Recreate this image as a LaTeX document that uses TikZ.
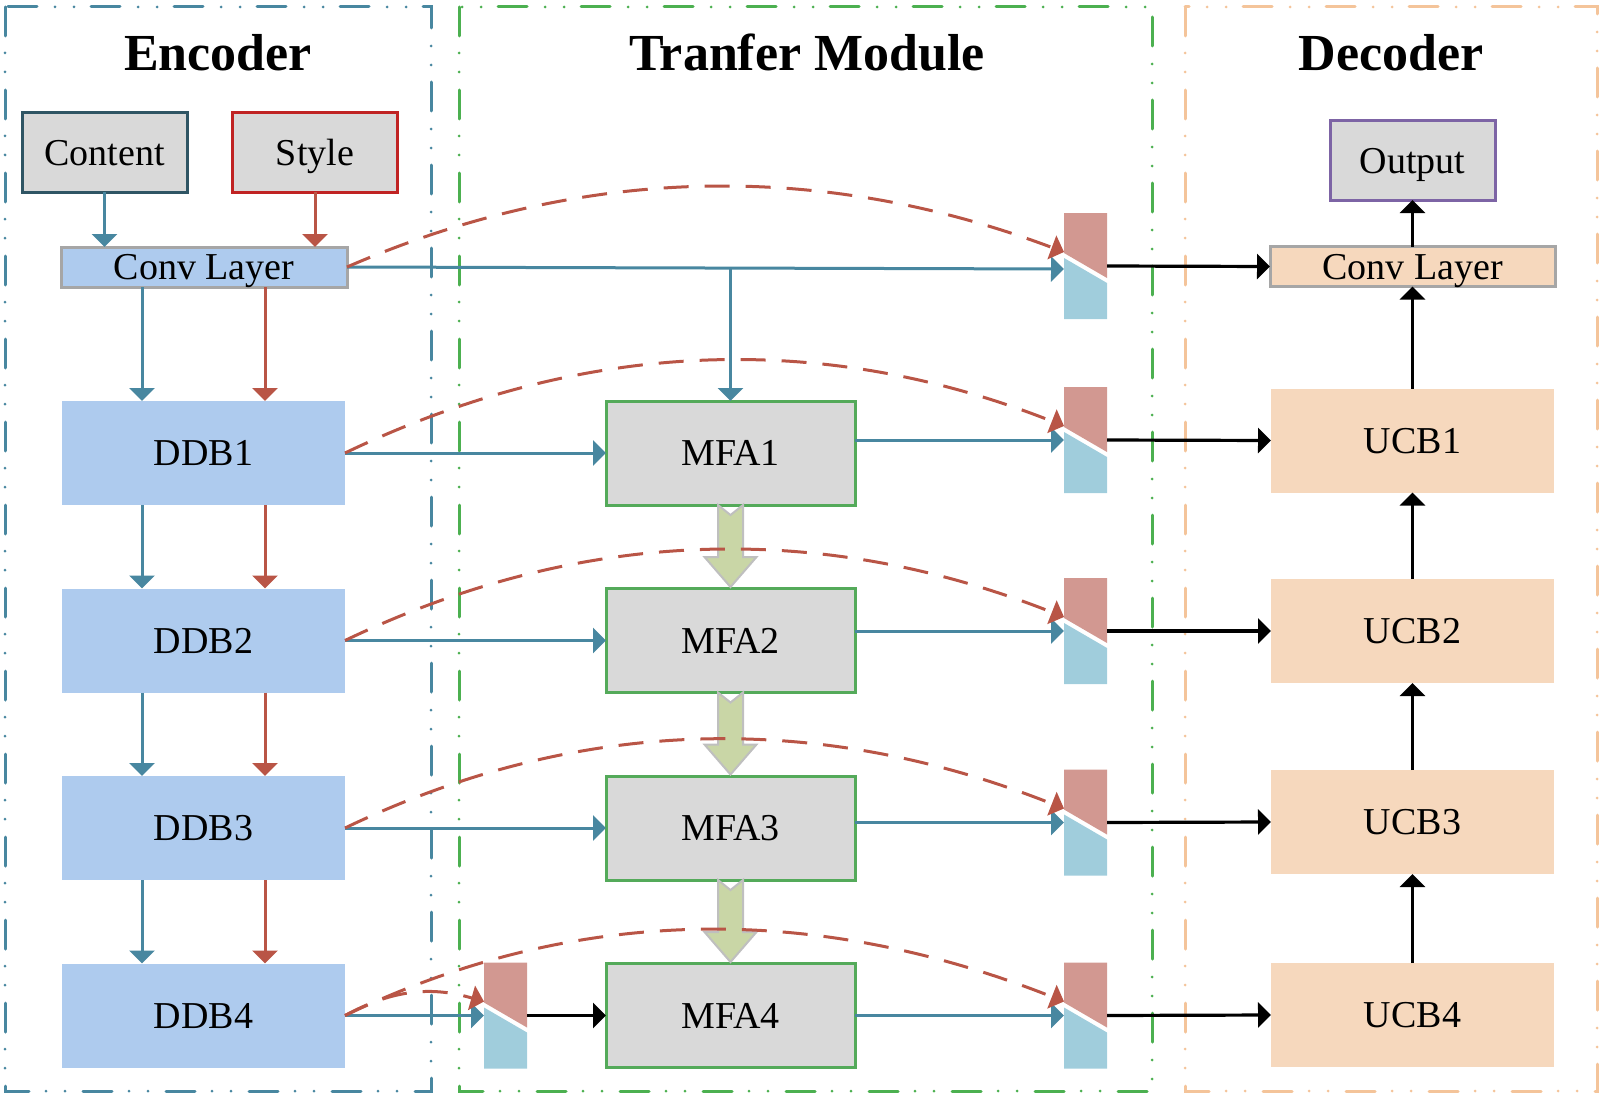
\documentclass[tikz,border=0pt]{standalone}
\usepackage{fontspec}
\setmainfont{Liberation Serif}
\usetikzlibrary{arrows.meta, calc}

\definecolor{encblue}{RGB}{72,135,160}
\definecolor{encred}{RGB}{185,85,70}
\definecolor{contc}{RGB}{47,85,100}
\definecolor{stylc}{RGB}{192,35,35}
\definecolor{grayfill}{RGB}{217,217,217}
\definecolor{ddbfill}{RGB}{174,203,238}
\definecolor{convgray}{RGB}{166,166,166}
\definecolor{mfagreen}{RGB}{84,170,90}
\definecolor{catred}{RGB}{210,152,145}
\definecolor{catblue}{RGB}{160,205,220}
\definecolor{ucbfill}{RGB}{246,216,189}
\definecolor{outc}{RGB}{125,100,165}
\definecolor{trgreen}{RGB}{76,176,80}
\definecolor{decpeach}{RGB}{244,196,154}
\definecolor{flowfill}{RGB}{201,214,166}
\definecolor{flowdraw}{RGB}{191,191,191}

\begin{document}
\begin{tikzpicture}[x=0.5pt, y=-0.5pt,
    box/.style={rectangle, inner sep=0pt, outer sep=0pt, text height=12.5pt, text depth=0pt,
        font=\fontsize{19}{22}\selectfont},
    ddbbox/.style={box, fill=ddbfill, minimum width=141.5pt, minimum height=52pt},
    mfabox/.style={box, fill=grayfill, draw=mfagreen, line width=1.5pt, minimum width=124.5pt, minimum height=52pt},
    ucbbox/.style={box, fill=ucbfill, minimum width=141.5pt, minimum height=52pt},
    inbox/.style={box, fill=grayfill, line width=1.5pt, minimum width=82.5pt, minimum height=39.5pt},
    convbox/.style={box, draw=convgray, line width=1.5pt, minimum height=20pt, text height=12.5pt,
        font=\fontsize{19}{21}\selectfont},
    catbox/.style={rectangle, inner sep=0pt, outer sep=0pt, minimum width=21.5pt, minimum height=53pt},
    title/.style={font=\bfseries\fontsize{26}{30}\selectfont},
    frame/.style={line width=1.5pt, line cap=round,
        dash pattern=on 14.5pt off 8.5pt on 0pt off 9.5pt on 0pt off 9pt},
    tip/.style={-{Triangle[length=6.5pt,width=12.5pt]}},
    bluearr/.style={tip, draw=encblue, line width=1.5pt},
    redarr/.style={tip, draw=encred, line width=1.5pt},
    blackarr/.style={tip, draw=black, line width=1.6pt},
    redcurve/.style={redarr, dash pattern=on 12.5pt off 8pt},
    flowarr/.style={fill=flowfill, draw=flowdraw, line width=1pt, line join=miter}
]
    \useasboundingbox (0,0) rectangle (1606,1102);

    % 虚线框
    \draw[frame, encblue] (5,7) rectangle (431,1091);
    \draw[frame, trgreen] (459,7) rectangle (1152,1091);
    \draw[frame, decpeach] (1185,7) rectangle (1597,1091);

    % 标题
    \node[title] (tenc) at (218,53) {Encoder};
    \node[title] (ttra) at (807,53) {Tranfer Module};
    \node[title] (tdec) at (1391,53) {Decoder};

    % 编码器
    \node[inbox, draw=contc] (cont) at (104.5,152.5) {Content};
    \node[inbox, draw=stylc] (sty) at (315,152.5) {Style};
    \node[convbox, fill=ddbfill, minimum width=143pt] (convenc) at (204,267) {Conv Layer};
    \foreach \i/\y in {1/453, 2/640.5, 3/828, 4/1015.5} {
        \node[ddbbox] (ddb\i) at (203.5,\y) {DDB\i};
        \node[mfabox] (mfa\i) at (730.5,\y) {MFA\i};
    }

    % 解码器
    \foreach \i/\y in {1/440.5, 2/631, 3/822, 4/1015}
        \node[ucbbox] (ucb\i) at (1412.5,\y) {UCB\i};
    \node[convbox, fill=ucbfill, minimum width=142.5pt] (convdec) at (1412.5,266.5) {Conv Layer};
    \node[inbox, draw=outc] (out) at (1412.5,160.5) {Output};

    % 拼接块
    \foreach \n/\y in {c0/266, c1/440, c2/631, c3/822.5, c4/1015.5}
        \node[catbox] (\n) at (1085.5,\y) {};
    \node[catbox] (cl) at (505.5,1015.5) {};
    \foreach \n in {c0,c1,c2,c3,c4,cl} {
        \fill[catred] (\n.north west) -- (\n.north east) -- ($(\n.north east)+(0,65)$)
            -- ($(\n.north west)+(0,40)$) -- cycle;
        \fill[catblue] ($(\n.north west)+(0,45)$) -- ($(\n.north east)+(0,70)$)
            -- (\n.south east) -- (\n.south west) -- cycle;
    }

    % 编码器箭头
    \draw[bluearr] (cont.south) -- (cont.south |- convenc.north);
    \draw[redarr] (sty.south) -- (sty.south |- convenc.north);
    \draw[bluearr] ([xshift=40.5pt]convenc.south west) -- ([xshift=40pt]ddb1.north west);
    \draw[redarr] ([xshift=102pt]convenc.south west) -- ([xshift=101.5pt]ddb1.north west);
    \foreach \i/\j in {1/2, 2/3, 3/4} {
        \draw[bluearr] ([xshift=40pt]ddb\i.south west) -- ([xshift=40pt]ddb\j.north west);
        \draw[redarr] ([xshift=101.5pt]ddb\i.south west) -- ([xshift=101.5pt]ddb\j.north west);
    }

    % 迁移模块
    \draw[bluearr] (convenc.east) -- ([yshift=-1.5pt]c0.west);
    \draw[bluearr] (mfa1.north |- convenc.east) -- (mfa1.north);
    \foreach \i in {1,2,3}
        \draw[bluearr] (ddb\i.east) -- (mfa\i.west);
    \draw[bluearr] (ddb4.east) -- (cl.west);
    \draw[blackarr] (cl.east) -- (mfa4.west);
    \foreach \i in {1,...,4}
        \draw[bluearr] (mfa\i.east |- c\i.west) -- (c\i.west);
    \foreach \i in {1,2,3}
        \draw[flowarr] ([xshift=-6.25pt]mfa\i.south) -- ++(12.5,10) -- ++(12.5,-10) -- ++(0,52)
            -- ++(13.5,0) -- ++(-26,30) -- ++(-26,-30) -- ++(13.5,0) -- cycle;

    % 跳跃连接
    \draw[redcurve] (convenc.east) .. controls +(240,-104) and +(-240,-90) .. ([yshift=7pt]c0.west);
    \foreach \i in {1,...,4}
        \draw[redcurve] (ddb\i.east) .. controls +(240,-115) and +(-240,-95) .. ([yshift=7pt]c\i.west);
    \draw[redcurve] (ddb4.east) .. controls +(55,-30) and +(-45,-13) .. ([yshift=7pt]cl.west);

    % 解码器箭头
    \draw[blackarr] (c0.east) -- (convdec.west);
    \foreach \i in {1,...,4}
        \draw[blackarr] (c\i.east) -- (ucb\i.west);
    \foreach \i/\j in {4/3, 3/2, 2/1}
        \draw[blackarr] (ucb\i.north) -- (ucb\j.south);
    \draw[blackarr] (ucb1.north) -- (convdec.south);
    \draw[blackarr] (convdec.north) -- (out.south);
\end{tikzpicture}
\end{document}
